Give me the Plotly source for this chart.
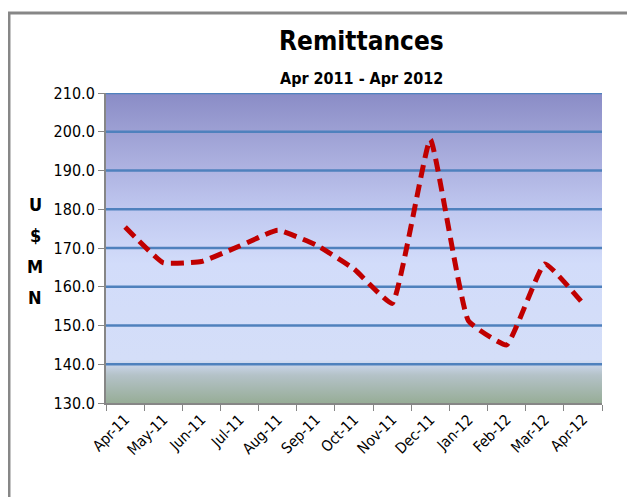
import plotly.graph_objects as go

# data
months = ["Apr-11", "May-11", "Jun-11", "Jul-11", "Aug-11", "Sep-11", "Oct-11",
          "Nov-11", "Dec-11", "Jan-12", "Feb-12", "Mar-12", "Apr-12"]
remit = [175.4, 166.2, 166.5, 170.5, 174.6, 170.8, 164.6, 155.7, 198.0, 151.2, 145.0, 165.9, 155.7]

y_ticks = [130, 140, 150, 160, 170, 180, 190, 200, 210]
y_min, y_max = 130, 210
y_title = ["U", "$", "M", "N"]

FONT = "DejaVu Sans Condensed, Liberation Sans Narrow, Liberation Sans, sans-serif"
x_lo, x_hi = -0.5, len(months) - 0.5

fig = go.Figure()

# background gradient for the plot area (base x axis, drawn first)
fig.add_trace(go.Scatter(
    x=[x_lo, x_hi, x_hi, x_lo, x_lo],
    y=[y_min, y_min, y_max, y_max, y_min],
    mode="lines", line=dict(width=0), fill="toself",
    fillgradient=dict(
        type="vertical",
        colorscale=[
            [0.0, "#97ad97"],
            [0.09, "#b4c2c8"],
            [0.14, "#d4def8"],
            [0.45, "#d2dcfa"],
            [0.62, "#c0c8f0"],
            [0.80, "#a8acdc"],
            [1.0, "#8a8cc6"],
        ],
    ),
    hoverinfo="skip", showlegend=False,
))

# gridlines on top of the gradient
gx, gy = [], []
for v in y_ticks[1:]:
    gx += [x_lo, x_hi, None]
    gy += [v, v, None]
fig.add_trace(go.Scatter(x=gx, y=gy, mode="lines", line=dict(color="#4f81bd", width=2.5),
                         hoverinfo="skip", showlegend=False))

# the series on the overlaying category axis so it sits above everything
fig.add_trace(go.Scatter(
    x=months, y=remit, mode="lines", xaxis="x2",
    line=dict(color="#c00000", width=5, dash="13px,7px", shape="spline", smoothing=0.35),
    showlegend=False,
))

annotations = [
    dict(text="<b>Remittances</b>", x=0.516, y=1, xref="paper", yref="paper",
         xanchor="center", yanchor="bottom", yshift=35, showarrow=False,
         font=dict(size=26, family=FONT)),
    dict(text="<b>Apr 2011 - Apr 2012</b>", x=0.516, y=1, xref="paper", yref="paper",
         xanchor="center", yanchor="bottom", yshift=3, showarrow=False,
         font=dict(size=16, family=FONT)),
]
for i, ch in enumerate(y_title):
    annotations.append(dict(text=f"<b>{ch}</b>", x=-0.143, y=0.639 - i * 0.1, xref="paper",
                            yref="paper", xanchor="center", yanchor="middle", showarrow=False,
                            font=dict(size=18, family=FONT)))

fig.update_layout(
    width=635, height=497,
    # page body has an 8px margin, so the figure is shifted by 8px
    margin=dict(l=98, r=41, t=85, b=102),
    paper_bgcolor="white",
    plot_bgcolor="rgba(0,0,0,0)",
    font=dict(family=FONT, color="black"),
    xaxis=dict(range=[x_lo, x_hi], visible=False),
    xaxis2=dict(
        type="category", overlaying="x", range=[x_lo, x_hi], tickangle=-45,
        tickson="boundaries", ticks="outside", ticklen=6, tickcolor="#868686",
        showline=True, linecolor="#868686", linewidth=2,
        showgrid=False, zeroline=False,
        tickfont=dict(size=15, family=FONT),
    ),
    yaxis=dict(
        range=[y_min, y_max], tickvals=y_ticks,
        ticktext=[f"{v:.1f}" for v in y_ticks],
        ticks="outside", ticklen=6, tickcolor="#868686",
        showline=True, linecolor="#868686", linewidth=2,
        showgrid=False, zeroline=False, tickfont=dict(size=16, family=FONT),
    ),
    annotations=annotations,
    shapes=[
        dict(type="rect", xref="paper", yref="paper", x0=-0.1956, x1=1.2, y0=-0.4, y1=1.258,
             line=dict(color="#878787", width=3), layer="below"),
    ],
)

fig.write_html("out.html")
